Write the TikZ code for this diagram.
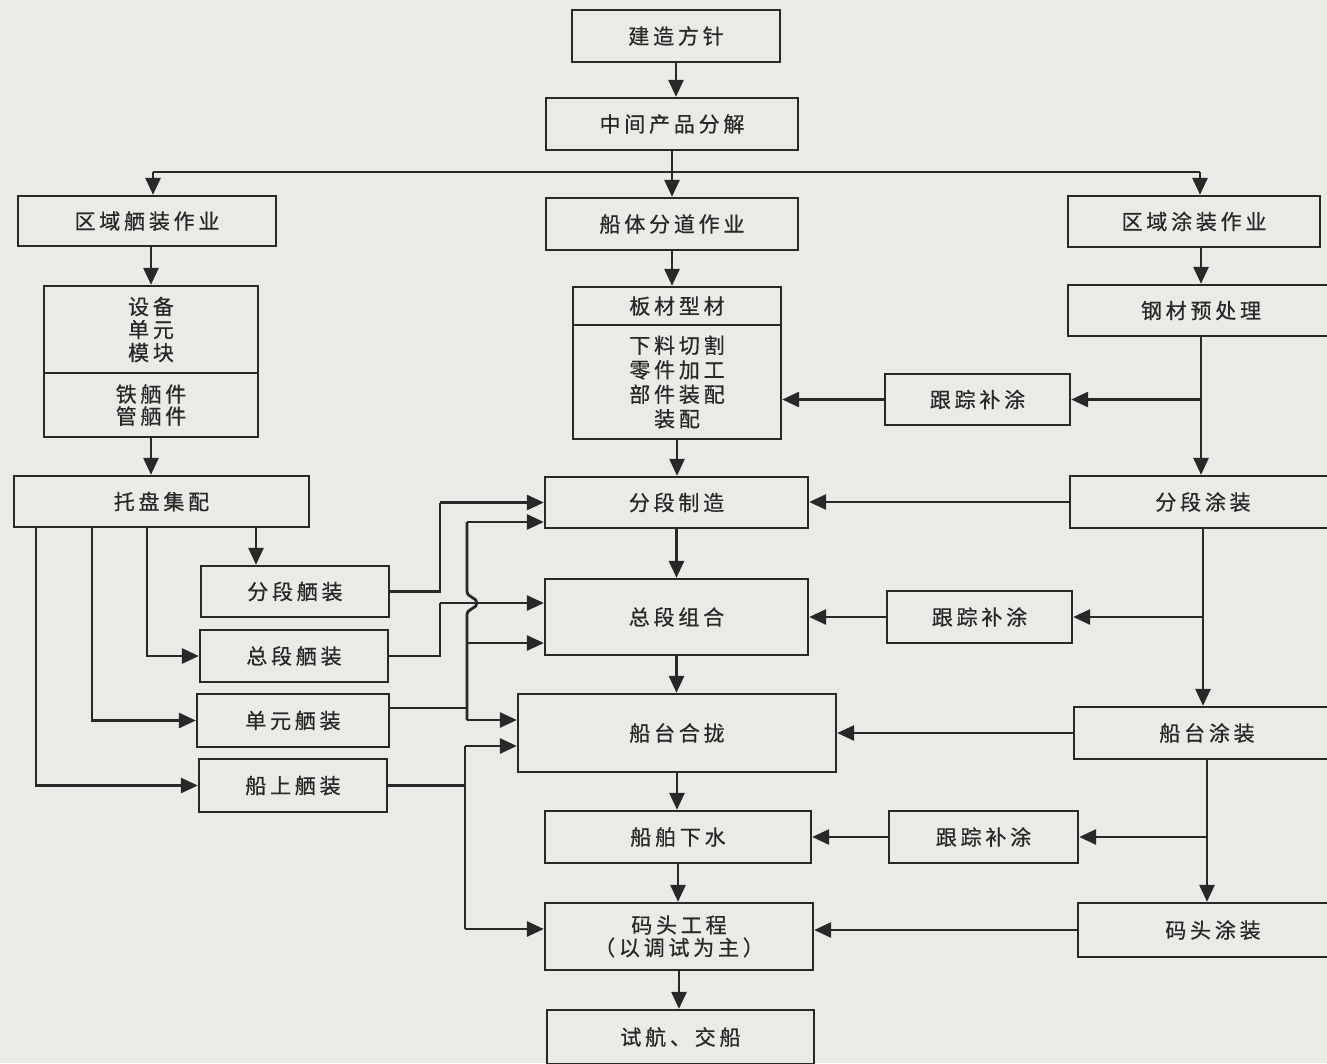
\documentclass[tikz,border=0pt]{standalone}
\usepackage{fontspec}
\newfontfamily\cjk[LetterSpace=18,FakeBold=0.6]{Noto Sans CJK SC}
\usetikzlibrary{arrows.meta,calc}
\definecolor{paper}{RGB}{233,236,230}
\definecolor{ink}{RGB}{40,40,40}
\tikzset{
  box/.style={draw=ink, line width=2.3pt, inner sep=0pt, align=center, text=ink,
    font=\cjk\fontsize{21}{24.5}\selectfont},
  conn/.style={draw=ink, line width=2.8pt},
  arr/.style={conn, -{Triangle[length=17pt,width=15pt]}},
}
\begin{document}
\begin{tikzpicture}[x=1pt,y=-1pt]
\fill[paper] (0,0) rectangle (1327,1063);
\useasboundingbox (0,0) rectangle (1327,1063);
\clip (0,0) rectangle (1327,1063);

% middle column
\node[box,minimum width=208pt,minimum height=52pt] (jz) at (676,36) {建造方针};
\node[box,minimum width=252pt,minimum height=52pt] (zj) at (672,124) {中间产品分解};
\node[box,minimum width=252pt,minimum height=52pt] (hf) at (672,224) {船体分道作业};
\node[box,minimum width=208pt,minimum height=38pt] (bct) at (677,306) {板材型材};
\node[box,minimum width=208pt,minimum height=114pt] (bcb) at (677,382) {下料切割\\零件加工\\部件装配\\装配};
\node[box,minimum width=263pt,minimum height=51pt] (fz) at (676.5,502.5) {分段制造};
\node[box,minimum width=263pt,minimum height=76pt] (zz) at (676.5,617) {总段组合};
\node[box,minimum width=318pt,minimum height=78pt] (ch) at (677,733) {船台合拢};
\node[box,minimum width=266pt,minimum height=52pt] (xs) at (678,837) {船舶下水};
\node[box,minimum width=268pt,minimum height=67pt,font=\cjk\fontsize{21}{22.5}\selectfont] (mt) at (679,936.5) {码头工程\\（以调试为主）};
\node[box,minimum width=267pt,minimum height=54pt] (sh) at (680.5,1037) {试航、交船};

% left column
\node[box,minimum width=258pt,minimum height=50pt] (qy) at (147,221) {区域舾装作业};
\node[box,minimum width=214pt,minimum height=87pt,font=\cjk\fontsize{21}{23}\selectfont] (sb1) at (151,329.5) {设备\\单元\\模块};
\node[box,minimum width=214pt,minimum height=64pt,font=\cjk\fontsize{21}{22}\selectfont] (sb2) at (151,405) {铁舾件\\管舾件};
\node[box,minimum width=295pt,minimum height=51pt] (tp) at (161.5,501.5) {托盘集配};
\node[box,minimum width=188pt,minimum height=51pt] (fx) at (295,591.5) {分段舾装};
\node[box,minimum width=188pt,minimum height=52pt] (zx) at (294,656) {总段舾装};
\node[box,minimum width=192pt,minimum height=53pt] (dx) at (293,720.5) {单元舾装};
\node[box,minimum width=188pt,minimum height=53pt] (cxs) at (293,785.5) {船上舾装};

% right column
\node[box,minimum width=252pt,minimum height=51pt] (qt) at (1194,221.5) {区域涂装作业};
\node[box,minimum width=266pt,minimum height=51pt] (gc) at (1201,310.5) {钢材预处理};
\node[box,minimum width=185pt,minimum height=51pt] (gz1) at (977.5,399.5) {跟踪补涂};
\node[box,minimum width=266pt,minimum height=52pt] (ft) at (1203,502) {分段涂装};
\node[box,minimum width=185pt,minimum height=52pt] (gz2) at (979.5,617) {跟踪补涂};
\node[box,minimum width=266pt,minimum height=52pt] (ct) at (1207,733) {船台涂装};
\node[box,minimum width=189pt,minimum height=52pt] (gz3) at (983.5,837) {跟踪补涂};
\node[box,minimum width=270pt,minimum height=54pt] (mtt) at (1213,930) {码头涂装};

% coordinates
\coordinate (spL) at (153,172);
\coordinate (spR) at (1200,172);
\coordinate (t1) at (36,527);
\coordinate (t2) at (92,527);
\coordinate (t3) at (147,527);
\coordinate (t4) at (256,527);
\coordinate (bT) at (467,522);
\coordinate (bJ1) at (467,591);
\coordinate (bJ2) at (467,615);
\coordinate (bM) at (467,643);
\coordinate (bB) at (467,720);
\coordinate (dxo) at (389,708);
\coordinate (lv1) at (465,746);
\coordinate (lv2) at (465,929);
\coordinate (k1) at (440,502.5);
\coordinate (k2) at (440,603);

% middle connectors
\draw[arr] (jz.south) -- (jz.south |- zj.north);
\draw[arr] (zj.south) -- (zj.south |- hf.north);
\draw[conn] (spL) -- (spR);
\draw[arr] (spL) -- (spL |- qy.north);
\draw[arr] (spR) -- (spR |- qt.north);
\draw[arr] (hf.south) -- (hf.south |- bct.north);
\draw[arr] (bcb.south) -- (bcb.south |- fz.north);
\draw[arr] (fz.south) -- (fz.south |- zz.north);
\draw[arr] (zz.south) -- (zz.south |- ch.north);
\draw[arr] (ch.south) -- (ch.south |- xs.north);
\draw[arr] (xs.south) -- (xs.south |- mt.north);
\draw[arr] (mt.south) -- (mt.south |- sh.north);

% left connectors
\draw[arr] (qy.south -| sb1.north) -- (sb1.north);
\draw[arr] (sb2.south) -- (sb2.south |- tp.north);
\draw[arr] (t4) -- (t4 |- fx.north);
\draw[arr] (t3) |- (zx.west);
\draw[arr] (t2) |- (dx.west);
\draw[arr] (t1) |- (cxs.west);
\draw[conn] (fx.east) -| (k1);
\draw[arr] (k1) -- (k1 -| fz.west);
\draw[conn] (zx.east) -| (k2);
\draw[arr] (k2) -- (k2 -| zz.west);
\draw[conn] (bT) -- (bJ1) .. controls (467,598) and (477,597) .. (477,603)
   .. controls (477,609) and (467,608) .. (bJ2) -- (bB);
\draw[arr] (bT) -- (bT -| fz.west);
\draw[arr] (bM) -- (bM -| zz.west);
\draw[arr] (bB) -- (bB -| ch.west);
\draw[conn] (dxo) -- (dxo -| bT);
\draw[conn] (cxs.east) -- (cxs.east -| lv1);
\draw[conn] (lv1) -- (lv2);
\draw[arr] (lv1) -- (lv1 -| ch.west);
\draw[arr] (lv2) -- (lv2 -| mt.west);

% right connectors
\draw[arr] (qt.south -| gc.north) -- (gc.north);
\draw[arr] (gc.south) -- (gc.south |- ft.north);
\draw[arr] (gc.south |- gz1.east) -- (gz1.east);
\draw[arr] (gz1.west) -- (gz1.west -| bcb.east);
\draw[arr] (ft.west) -- (ft.west -| fz.east);
\draw[arr] (ft.south) -- (ft.south |- ct.north);
\draw[arr] (ft.south |- gz2.east) -- (gz2.east);
\draw[arr] (gz2.west) -- (gz2.west -| zz.east);
\draw[arr] (ct.west) -- (ct.west -| ch.east);
\draw[arr] (ct.south) -- (ct.south |- mtt.north);
\draw[arr] (ct.south |- gz3.east) -- (gz3.east);
\draw[arr] (gz3.west) -- (gz3.west -| xs.east);
\draw[arr] (mtt.west) -- (mtt.west -| mt.east);
\end{tikzpicture}
\end{document}
